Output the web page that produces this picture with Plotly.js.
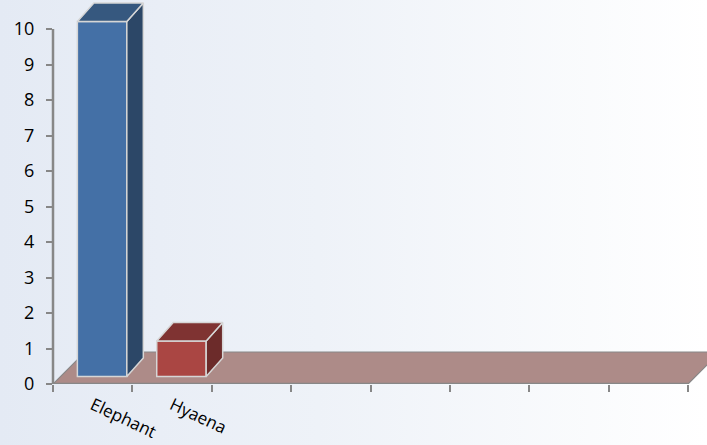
<!DOCTYPE html>
<html>
<head>
<meta charset="utf-8">
<script src="https://cdn.plot.ly/plotly-3.0.1.min.js"></script>
<style>
  html, body { margin: 0; padding: 0; }
  body { width: 707px; height: 445px; overflow: hidden;
         background: linear-gradient(to right, #E4EAF4 0%, #EEF2F8 45%, #FFFFFF 100%); }
  #chart { width: 707px; height: 445px; }
</style>
</head>
<body>
<div id="chart"></div>
<script>
// ---- data ----
const categories = ['Elephant', 'Hyaena'];
const values = [10, 1];
const slotCount = 8;                       // category slots on the x axis
const yTicks = [0, 1, 2, 3, 4, 5, 6, 7, 8, 9, 10];

// ---- styling ----
const frontColors = ['#4470A6', '#AA4643'];
const topColors   = ['#36587F', '#7F3332'];
const sideColors  = ['#2C4767', '#6C2B2A'];
const edgeColor   = '#D6D6D6';
const floorColor  = '#AD8B88';
const axisColor   = '#878787';

// layout geometry
const W = 707, H = 445;
const M = { l: 53, r: 0, t: 0, b: 61 };
const plotW = W - M.l - M.r, plotH = H - M.t - M.b;
const pxPerX = 635 / slotCount;            // px per category slot
const pxPerY = 35.5;                       // px per value unit
const xMax = plotW / pxPerX;
const yMax = plotH / pxPerY;
const px2x = p => p / pxPerX;
const px2y = p => p / pxPerY;

// 3D projection (in pixels, converted to data units)
const barDx = px2x(16.5), barDy = px2y(18.5);
const floorDx = px2x(32), floorDy = px2y(32);
const baseLift = px2y(7.5);
const frontLeft = 0.307, frontWidth = 0.623;

const centers = categories.map((c, i) => i + 0.5);
const traces = [];

// front faces as bars
traces.push({
  type: 'bar',
  x: centers,
  y: values,
  base: values.map(() => baseLift),
  width: frontWidth,
  offset: frontLeft - 0.5,
  marker: { color: frontColors, line: { color: edgeColor, width: 1.5 } },
  hoverinfo: 'skip',
  showlegend: false
});

// top and side faces
values.forEach((v, i) => {
  const xl = i + frontLeft, xr = xl + frontWidth;
  const bot = baseLift, top = baseLift + v;
  traces.push({
    type: 'scatter', mode: 'lines', fill: 'toself',
    x: [xr, xr, xr + barDx, xr + barDx, xr],
    y: [bot, top, top + barDy, bot + barDy, bot],
    fillcolor: sideColors[i], line: { color: edgeColor, width: 1.5 },
    hoverinfo: 'skip', showlegend: false
  });
  traces.push({
    type: 'scatter', mode: 'lines', fill: 'toself',
    x: [xl, xr, xr + barDx, xl + barDx, xl],
    y: [top, top, top + barDy, top + barDy, top],
    fillcolor: topColors[i], line: { color: edgeColor, width: 1.5 },
    hoverinfo: 'skip', showlegend: false
  });
});

const shapes = [
  // floor
  { type: 'path', xref: 'x', yref: 'y', layer: 'below',
    path: `M 0 0 L ${slotCount} 0 L ${slotCount + floorDx} ${floorDy} L ${floorDx} ${floorDy} Z`,
    fillcolor: floorColor, line: { color: axisColor, width: 1.2 } },
  // x axis line (floor front edge)
  { type: 'line', xref: 'x', yref: 'y', x0: 0, x1: slotCount, y0: 0, y1: 0,
    line: { color: axisColor, width: 2.5 } },
  // y axis line
  { type: 'line', xref: 'paper', yref: 'y', x0: 0, x1: 0, y0: 0, y1: yTicks[yTicks.length - 1],
    line: { color: axisColor, width: 2.5 } }
];

const layout = {
  width: W, height: H,
  margin: M,
  paper_bgcolor: 'rgba(0,0,0,0)',
  plot_bgcolor: 'rgba(0,0,0,0)',
  showlegend: false,
  barmode: 'overlay',
  font: { family: 'Open Sans, sans-serif', color: '#000000' },
  xaxis: {
    range: [0, xMax], fixedrange: true,
    tickmode: 'array', tickvals: centers, ticktext: categories,
    ticks: 'outside', ticklen: 4, tickcolor: 'rgba(0,0,0,0)',
    tickangle: 25, tickfont: { size: 17, color: '#000' },
    minor: { tickmode: 'linear', tick0: 0, dtick: 1, ticks: 'outside',
             ticklen: 7, tickwidth: 2, tickcolor: axisColor, showgrid: false },
    showgrid: false, zeroline: false, showline: false
  },
  yaxis: {
    range: [0, yMax], fixedrange: true,
    tickmode: 'array', tickvals: yTicks,
    ticks: 'outside', ticklen: 6, tickwidth: 2, tickcolor: axisColor,
    ticklabelstandoff: 8,
    tickfont: { size: 18, color: '#000' },
    showgrid: false, zeroline: false, showline: false
  },
  shapes: shapes
};

Plotly.newPlot('chart', traces, layout, { displayModeBar: false, staticPlot: true });
</script>
</body>
</html>
